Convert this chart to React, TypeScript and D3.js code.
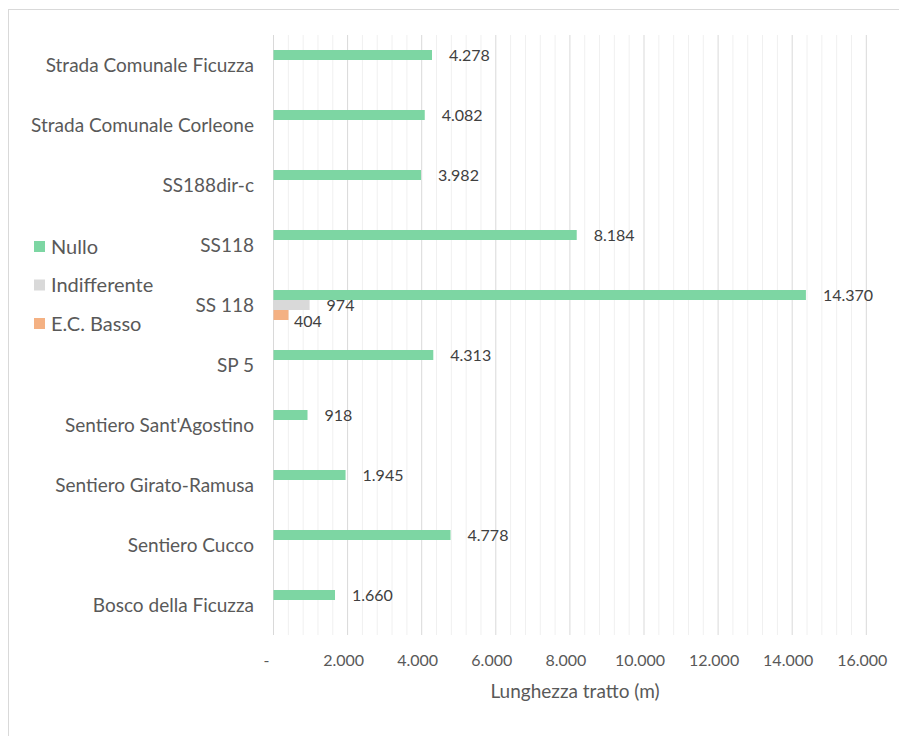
import React from "react";
import * as d3 from "d3";

const categories = [
  "Bosco della Ficuzza",
  "Sentiero Cucco",
  "Sentiero Girato-Ramusa",
  "Sentiero Sant'Agostino",
  "SP 5",
  "SS 118",
  "SS118",
  "SS188dir-c",
  "Strada Comunale Corleone",
  "Strada Comunale Ficuzza",
];
const seriesNames = ["Nullo", "Indifferente", "E.C. Basso"];
const nullo = [1660, 4778, 1945, 918, 4313, 14370, 8184, 3982, 4082, 4278];
const indifferente = [null, null, null, null, null, 974, null, null, null, null];
const ecBasso = [null, null, null, null, null, 404, null, null, null, null];
const seriesValues = [nullo, indifferente, ecBasso];
const colors = ["#7dd6a3", "#d9d9d9", "#f4b183"];
const xTicks = [0, 2000, 4000, 6000, 8000, 10000, 12000, 14000, 16000];
const axisTitle = "Lunghezza tratto (m)";

const W = 899;
const H = 736;
const FONT = "Lato, 'Open Sans', sans-serif";
const TXT = "#595959";

const loc = d3.formatLocale({ decimal: ",", thousands: ".", grouping: [3], currency: ["€", ""] });
const fmt = loc.format(",d");

export default function App() {
  const x = d3.scaleLinear().domain([0, 16000]).range([273.5, 866.3]);
  const y = d3
    .scaleBand<string>()
    .domain([...categories].reverse())
    .range([35, 635])
    .paddingInner(0)
    .paddingOuter(0);
  const sub = d3.scaleBand<number>().domain([0, 1, 2]).range([0, 30]);
  const minorTicks = d3.range(0, 16001, 400).filter((v) => v % 2000 !== 0);

  return (
    <div style={{ position: "fixed", left: 0, top: 0 }}>
      <svg width={W} height={H} style={{ display: "block", background: "#fff" }}>
        <rect x={8.5} y={9.5} width={W + 20} height={H + 20} fill="#fff" stroke="#d9d9d9" strokeWidth={1} />
        {minorTicks.map((t) => (
          <line key={"m" + t} x1={x(t)} x2={x(t)} y1={35} y2={635} stroke="#f0f0f0" strokeWidth={1} />
        ))}
        {xTicks.map((t) => (
          <line key={"g" + t} x1={x(t)} x2={x(t)} y1={35} y2={635} stroke="#d9d9d9" strokeWidth={1} />
        ))}
        {categories.map((c, i) => {
          const y0 = (y(c) as number) + y.bandwidth() / 2 - 15;
          return (
            <g key={c}>
              {seriesValues.map((vals, s) => {
                const v = vals[i];
                if (v == null) return null;
                const by = y0 + (sub(s) as number);
                const dx = s === 2 ? 5.5 : 17;
                const dy = s === 2 ? 6 : 0.5;
                return (
                  <g key={s}>
                    <rect x={x(0)} y={by} width={x(v) - x(0)} height={sub.bandwidth()} fill={colors[s]} />
                    <text
                      x={x(v) + dx}
                      y={by + sub.bandwidth() / 2 + dy}
                      dy="0.35em"
                      fontFamily={FONT}
                      fontSize={16}
                      fill="#404040"
                    >
                      {fmt(v)}
                    </text>
                  </g>
                );
              })}
              <text
                x={254}
                y={(y(c) as number) + y.bandwidth() / 2}
                dy="0.35em"
                textAnchor="end"
                fontFamily={FONT}
                fontSize={19}
                fill={TXT}
              >
                {c}
              </text>
            </g>
          );
        })}
        {xTicks.map((t) => (
          <text
            key={"t" + t}
            x={t === 0 ? x(t) - 7 : x(t) - 4}
            y={660}
            dy="0.35em"
            textAnchor="middle"
            fontFamily={FONT}
            fontSize={16}
            fill={TXT}
          >
            {t === 0 ? "-" : fmt(t)}
          </text>
        ))}
        <text x={575} y={691} dy="0.35em" textAnchor="middle" fontFamily={FONT} fontSize={19} fill={TXT}>
          {axisTitle}
        </text>
        {seriesNames.map((n, s) => (
          <g key={n}>
            <rect x={34} y={241 + s * 38.5} width={11} height={11} fill={colors[s]} />
            <text x={51} y={246.5 + s * 38.5} dy="0.35em" fontFamily={FONT} fontSize={20} fill={TXT}>
              {n}
            </text>
          </g>
        ))}
      </svg>
    </div>
  );
}
